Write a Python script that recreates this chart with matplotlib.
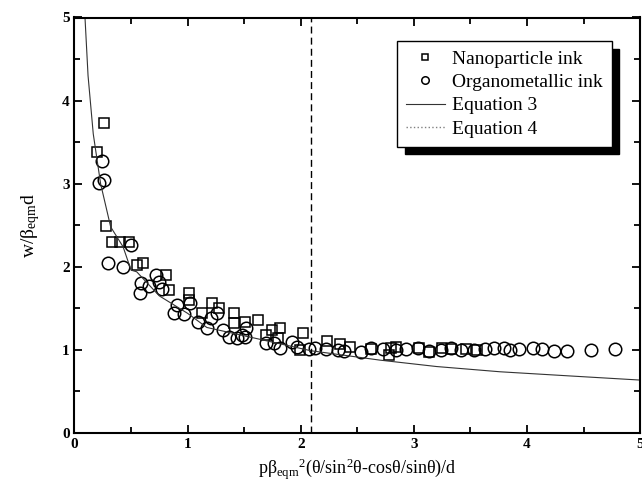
import matplotlib
matplotlib.use("Agg")
import matplotlib.pyplot as plt
from matplotlib.lines import Line2D
from matplotlib.ticker import MultipleLocator

plt.rcParams["font.family"] = ["Liberation Serif", "DejaVu Serif"]
plt.rcParams["mathtext.fontset"] = "custom"
plt.rcParams["mathtext.rm"] = "Liberation Serif"
plt.rcParams["mathtext.it"] = "Liberation Serif:italic"
plt.rcParams["mathtext.bf"] = "Liberation Serif:bold"

# Nanoparticle ink (squares)
nano_x = [0.264, 0.196, 0.28, 0.334, 0.40, 0.48, 0.55, 0.61, 0.81, 0.84,
          1.01, 1.01, 1.13, 1.22, 1.28, 1.41, 1.41, 1.51, 1.62, 1.69,
          1.75, 1.82, 1.80, 2.02, 1.99, 2.23, 2.35, 2.44, 2.62, 2.78,
          2.80, 2.84, 3.05, 3.13, 3.25, 3.33, 3.46, 3.56]
nano_y = [3.73, 3.38, 2.49, 2.30, 2.30, 2.30, 2.02, 2.04, 1.90, 1.72,
          1.69, 1.60, 1.44, 1.56, 1.50, 1.45, 1.32, 1.34, 1.36, 1.18,
          1.24, 1.26, 1.14, 1.20, 1.00, 1.11, 1.07, 1.04, 1.01, 0.94,
          1.02, 1.04, 1.02, 0.98, 1.02, 1.01, 1.01, 1.00]

# Organometallic ink (circles)
organo_x = [0.24, 0.22, 0.26, 0.30, 0.43, 0.50, 0.59, 0.58, 0.66, 0.72,
            0.75, 0.77, 0.88, 0.91, 0.97, 1.02, 1.09, 1.17, 1.21, 1.26,
            1.31, 1.37, 1.44, 1.48, 1.52, 1.51, 1.69, 1.76, 1.82, 1.92,
            1.97, 2.07, 2.13, 2.22, 2.33, 2.38, 2.53, 2.62, 2.73, 2.84,
            2.93, 3.04, 3.13, 3.24, 3.33, 3.42, 3.53, 3.63, 3.71, 3.80,
            3.85, 3.93, 4.05, 4.13, 4.24, 4.35, 4.57, 4.78]
organo_y = [3.27, 3.01, 3.04, 2.04, 2.00, 2.26, 1.80, 1.68, 1.77, 1.90,
            1.82, 1.73, 1.44, 1.54, 1.43, 1.56, 1.34, 1.26, 1.38, 1.44,
            1.24, 1.16, 1.14, 1.18, 1.26, 1.16, 1.08, 1.08, 1.02, 1.10,
            1.04, 1.01, 1.02, 1.01, 1.00, 0.99, 0.98, 1.02, 1.01, 1.00,
            1.01, 1.02, 0.99, 1.00, 1.02, 1.00, 1.00, 1.01, 1.02, 1.02,
            1.00, 1.01, 1.02, 1.01, 0.99, 0.99, 1.00, 1.01]

# Equation 3 curve
eq3_x = [0.093, 0.12, 0.166, 0.231, 0.32, 0.43, 0.50, 0.55, 0.75, 1.0,
         1.17, 1.5, 2.09, 2.70, 3.2, 3.76, 4.4, 5.0]
eq3_y = [5.0, 4.3, 3.6, 3.0, 2.48, 2.24, 1.96, 1.94, 1.65, 1.44,
         1.27, 1.17, 0.99, 0.877, 0.80, 0.737, 0.685, 0.637]

# Equation 4 (vertical line)
eq4_x = 2.09

fig = plt.figure(figsize=(6.42, 5.0), dpi=100)
ax = fig.add_axes([0.116, 0.134, 0.881, 0.831])

ax.plot(nano_x, nano_y, "s", ms=7.5, mfc="none", mec="black", mew=1.1,
        label="Nanoparticle ink")
ax.plot(organo_x, organo_y, "o", ms=9, mfc="none", mec="black", mew=1.1,
        label="Organometallic ink")
ax.plot(eq3_x, eq3_y, "-", color="#333333", lw=0.8, label="Equation 3")
ax.axvline(eq4_x, color="black", ls=(0, (5, 3)), lw=1.0)

ax.set_xlim(0, 5)
ax.set_ylim(0, 5)
ax.xaxis.set_major_locator(MultipleLocator(1))
ax.xaxis.set_minor_locator(MultipleLocator(0.5))
ax.yaxis.set_major_locator(MultipleLocator(1))
ax.yaxis.set_minor_locator(MultipleLocator(0.5))
ax.tick_params(which="both", direction="in", top=True, right=True,
               width=1.3, labelsize=11)
ax.tick_params(which="major", length=6)
ax.tick_params(which="minor", length=4)
for lab in ax.get_xticklabels() + ax.get_yticklabels():
    lab.set_fontweight("bold")
for s in ax.spines.values():
    s.set_linewidth(1.5)

ax.set_xlabel(r"pβ$_{\rm eqm}$$^{2}$(θ/sin$^{2}$θ-cosθ/sinθ)/d", fontsize=13)
ax.set_ylabel(r"w/β$_{\rm eqm}$d", fontsize=14, labelpad=14)

handles, labels = ax.get_legend_handles_labels()
handles.append(Line2D([], [], color="gray", ls=":", lw=1.0))
labels.append("Equation 4")
leg = ax.legend(handles, labels, loc="upper right",
                bbox_to_anchor=(0.950, 0.943), borderaxespad=0,
                fontsize=14, frameon=True, fancybox=False,
                shadow={"color": "black", "alpha": 1, "ox": 5.5, "oy": -5.5},
                markerscale=0.6, handlelength=2.0, handletextpad=0.4,
                labelspacing=0.3, borderpad=0.45)
leg.get_frame().set_edgecolor("black")
leg.get_frame().set_linewidth(1.0)

fig.savefig("out.png", dpi=100)
